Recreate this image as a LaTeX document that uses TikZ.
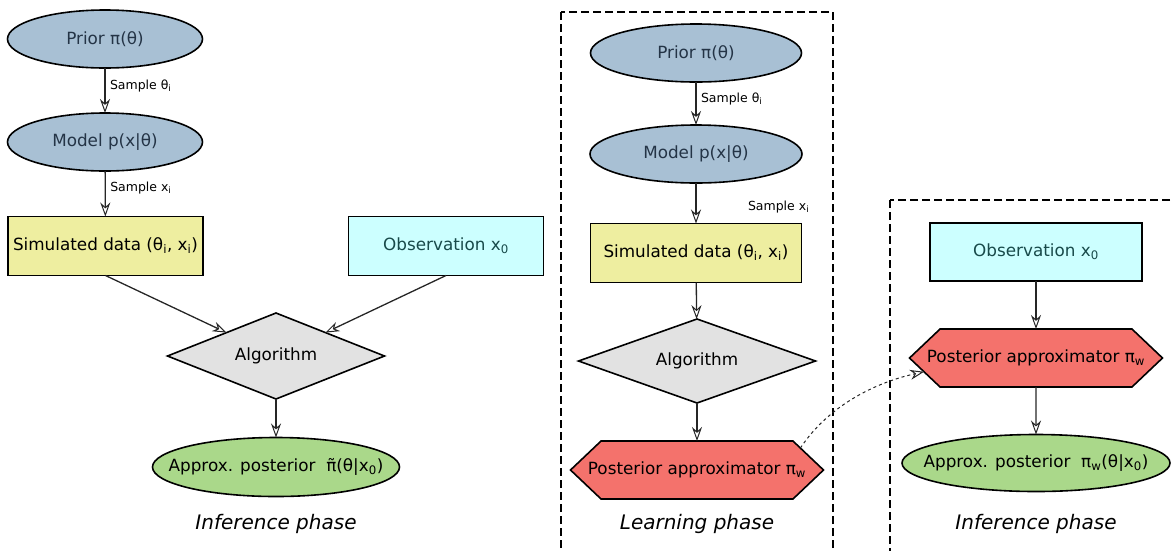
\documentclass[tikz,border=0pt]{standalone}
\usepackage{fontspec}
\setmainfont{DejaVu Sans}
\usetikzlibrary{shapes.geometric,shapes.symbols,arrows.meta}
\definecolor{priorblue}{RGB}{168,192,212}
\definecolor{priortext}{RGB}{36,52,70}
\definecolor{simyellow}{RGB}{238,238,160}
\definecolor{obscyan}{RGB}{204,255,255}
\definecolor{obstext}{RGB}{24,74,74}
\definecolor{alggray}{RGB}{226,226,226}
\definecolor{postred}{RGB}{244,114,108}
\definecolor{apxgreen}{RGB}{170,216,138}
\begin{document}
\begin{tikzpicture}[x=1pt,y=-1pt,inner sep=0pt,outer sep=0pt,line width=1.6pt,
font=\fontsize{16.8}{19}\selectfont,
>={Stealth[open,length=14pt,width=10pt,line width=1pt]},
flow/.style={->,line width=1.3pt,draw=black!85},
ellblock/.style={draw,ellipse,fill=priorblue,text=priortext,minimum width=#1,minimum height=58pt},
rectblock/.style={draw,rectangle,minimum width=#1,minimum height=59pt},
algblock/.style={draw,diamond,aspect=2.5,fill=alggray,minimum width=#1,minimum height=86pt},
hexblock/.style={draw,signal,signal to=east and west,signal pointer angle=87,fill=postred,minimum width=253pt,minimum height=58pt},
apxblock/.style={draw,ellipse,fill=apxgreen,minimum width=#1,minimum height=59pt},
samplelabel/.style={anchor=west,font=\fontsize{12.5}{15}\selectfont},
phase/.style={font=\fontsize{20}{24}\selectfont\itshape}]
\useasboundingbox (0,0) rectangle (1172,550);
\clip (0,0) rectangle (1172,550);
% inference phase (left)
\draw (105,39) node[ellblock=195pt] (prior1) {Prior π(θ)};
\draw (105,142) node[ellblock=195pt] (model1) {Model p(x|θ)};
\draw (105.5,246) node[rectblock=195pt,fill=simyellow] (sim1) {Simulated data (θ\textsubscript{i}, x\textsubscript{i})};
\draw (446,246) node[rectblock=195pt,fill=obscyan,text=obstext] (obs1) {Observation x\textsubscript{0}};
\draw (276,356) node[algblock=217pt] (alg1) {Algorithm};
\draw (276,467) node[apxblock=247pt] (apx1) {\makebox[165pt]{Approx. posterior\ \ π̃(θ|x\textsubscript{0})}};
\draw[flow] (prior1) -- node[samplelabel,xshift=5pt,yshift=5pt] {Sample θ\textsubscript{i}} (model1);
\draw[flow] (model1) -- node[samplelabel,xshift=5pt,yshift=6pt] {Sample x\textsubscript{i}} (sim1);
\draw[flow] (sim1.south) -- (alg1);
\draw[flow] (obs1.south) -- (alg1);
\draw[flow] (alg1) -- (apx1);
\node[phase] (title1) at (276,524) {Inference phase};
% learning phase
\draw[dash pattern=on 8pt off 4pt,line width=1.3pt] (561,12) rectangle (833,600);
\draw (696,53) node[ellblock=211pt] (prior2) {Prior π(θ)};
\draw (696,154) node[ellblock=212pt] (model2) {Model p(x|θ)};
\draw (696,253) node[rectblock=211pt,fill=simyellow] (sim2) {Simulated data (θ\textsubscript{i}, x\textsubscript{i})};
\draw (697,361) node[algblock=237pt,minimum height=84pt] (alg2) {Algorithm};
\draw (697,470) node[hexblock] (post2) {\makebox[180pt]{Posterior approximator π\textsubscript{w}}};
\draw[flow] (prior2) -- node[samplelabel,xshift=5pt,yshift=5pt] {Sample θ\textsubscript{i}} (model2);
\draw[flow] (model2) -- (sim2);
\node[samplelabel] (samplex2) at (748,207) {Sample x\textsubscript{i}};
\draw[flow] (sim2) -- (alg2);
\draw[flow] (alg2) -- (post2);
\node[phase] (title2) at (697,524) {Learning phase};
% inference phase (right)
\draw[dash pattern=on 8pt off 4pt,line width=1.3pt] (890,200) rectangle (1200,600);
\draw (1036,252) node[rectblock=212pt,minimum height=58pt,fill=obscyan,text=obstext] (obs3) {Observation x\textsubscript{0}};
\draw (1036,358) node[hexblock] (post3) {\makebox[180pt]{Posterior approximator π\textsubscript{w}}};
\draw (1036,463) node[apxblock=268pt,minimum height=57pt] (apx3) {\makebox[180pt]{Approx. posterior\ \ π\textsubscript{w}(θ|x\textsubscript{0})}};
\draw[flow] (obs3) -- (post3);
\draw[flow] (post3) -- (apx3);
\node[phase] (title3) at (1036,524) {Inference phase};
% weights handed over
\draw[flow,dashed,line width=1pt] (post2.12) .. controls +(30,-45) and +(-45,10) .. (post3.187);
\end{tikzpicture}
\end{document}
